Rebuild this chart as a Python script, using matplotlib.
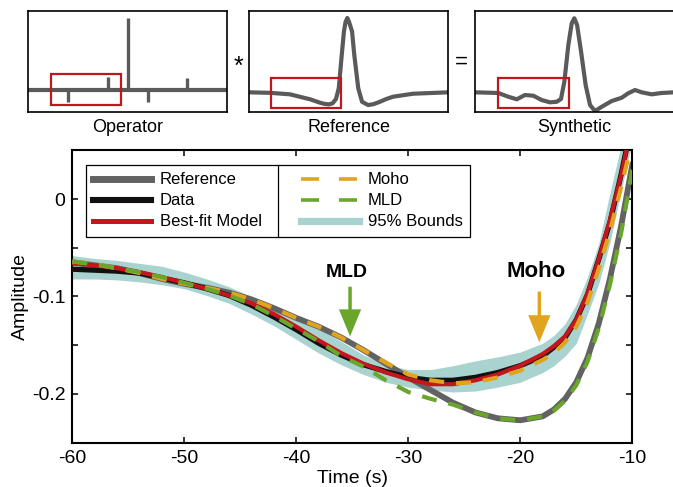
import matplotlib
matplotlib.use("Agg")
import matplotlib.pyplot as plt
from matplotlib.lines import Line2D
from matplotlib.patches import Rectangle

plt.rcParams["font.family"] = "Liberation Sans"
plt.rcParams["axes.unicode_minus"] = False

# ---- main panel: stacked amplitudes vs time
time_s = [-60, -58, -56, -54, -52, -50, -48, -46, -44, -42, -40, -38, -36, -34, -32,
          -30, -28, -26, -24, -22, -20, -18, -17, -16, -15, -14, -13, -12, -11, -10]

reference_amp = [-0.065, -0.068, -0.071, -0.076, -0.082, -0.087, -0.091, -0.096, -0.103, -0.112,
                 -0.122, -0.131, -0.142, -0.155, -0.169, -0.183, -0.196, -0.209, -0.219, -0.225,
                 -0.227, -0.223, -0.216, -0.205, -0.188, -0.163, -0.128, -0.082, -0.028, 0.035]
data_amp = [-0.072, -0.073, -0.074, -0.076, -0.081, -0.086, -0.092, -0.099, -0.109, -0.121,
            -0.134, -0.148, -0.160, -0.170, -0.177, -0.183, -0.186, -0.186, -0.183, -0.178,
            -0.171, -0.161, -0.152, -0.142, -0.124, -0.098, -0.062, -0.024, 0.025, 0.080]
bestfit_amp = [-0.066, -0.068, -0.071, -0.075, -0.080, -0.086, -0.092, -0.099, -0.107, -0.118,
               -0.131, -0.145, -0.158, -0.169, -0.178, -0.185, -0.190, -0.190, -0.186, -0.180,
               -0.171, -0.159, -0.151, -0.141, -0.124, -0.097, -0.062, -0.022, 0.024, 0.078]
moho_amp = [-0.064, -0.067, -0.071, -0.076, -0.082, -0.087, -0.091, -0.096, -0.103, -0.112,
            -0.122, -0.131, -0.142, -0.155, -0.168, -0.180, -0.186, -0.189, -0.188, -0.183,
            -0.176, -0.165, -0.158, -0.147, -0.131, -0.106, -0.072, -0.033, 0.012, 0.060]
mld_amp = [-0.064, -0.067, -0.071, -0.075, -0.080, -0.086, -0.092, -0.099, -0.108, -0.120,
           -0.133, -0.146, -0.161, -0.172, -0.186, -0.198, -0.205, -0.211, -0.219, -0.225,
           -0.227, -0.223, -0.217, -0.207, -0.191, -0.167, -0.133, -0.088, -0.035, 0.030]
bound_upper = [-0.058, -0.061, -0.063, -0.066, -0.069, -0.075, -0.082, -0.090, -0.100, -0.110,
               -0.122, -0.133, -0.146, -0.160, -0.170, -0.175, -0.175, -0.171, -0.166, -0.162,
               -0.157, -0.148, -0.140, -0.128, -0.108, -0.080, -0.046, 0.006, 0.055, 0.100]
bound_lower = [-0.082, -0.082, -0.083, -0.085, -0.088, -0.092, -0.099, -0.107, -0.118, -0.130,
               -0.144, -0.158, -0.170, -0.180, -0.188, -0.193, -0.196, -0.198, -0.197, -0.193,
               -0.188, -0.178, -0.171, -0.161, -0.148, -0.118, -0.087, -0.045, 0.008, 0.060]

# interface picks marked with arrows (time, arrow top, arrow tip, label height)
mld_pick = (-35.2, -0.090, -0.141, -0.075)
moho_pick = (-18.3, -0.095, -0.147, -0.0745)

# ---- top row: deconvolution sketch (normalised time 0..1, peak = 1)
op_lag = [0.201, 0.402, 0.503, 0.603, 0.799]
op_weight = [-0.167, 0.181, 1.0, -0.167, 0.167]

ref_t = [0.0, 0.106, 0.206, 0.307, 0.357, 0.380, 0.402, 0.420, 0.437, 0.451, 0.466, 0.477,
         0.485, 0.494, 0.503, 0.518, 0.529, 0.549, 0.568, 0.598, 0.625, 0.658, 0.690, 0.724,
         0.824, 1.0]
ref_wave = [0.0, -0.007, -0.027, -0.094, -0.140, -0.156, -0.162, -0.148, -0.090, 0.054, 0.502,
            0.816, 0.946, 1.0, 0.946, 0.816, 0.502, 0.054, -0.127, -0.171, -0.160, -0.127,
            -0.090, -0.059, -0.019, 0.0]

syn_t = [0.0, 0.117, 0.167, 0.210, 0.251, 0.293, 0.335, 0.377, 0.411, 0.432, 0.449, 0.469,
         0.486, 0.499, 0.513, 0.533, 0.556, 0.578, 0.603, 0.637, 0.687, 0.737, 0.770, 0.804,
         0.838, 0.888, 0.938, 1.0]
syn_wave = [0.0, -0.009, -0.059, -0.094, -0.036, -0.046, -0.104, -0.135, -0.127, -0.090, 0.143,
            0.637, 0.929, 0.996, 0.906, 0.546, 0.098, -0.171, -0.252, -0.194, -0.117, -0.073,
            -0.013, 0.031, 0.0, -0.027, -0.009, 0.0]

WAVE_GRAY = "#5a5a5a"
BOX_RED = "#c0161d"

fig = plt.figure(figsize=(6.73, 4.87), dpi=100)


def sketch_axes(x0, ylim):
    a = fig.add_axes([x0, 0.770, 0.2957, 0.2074])
    a.set_xlim(0, 1)
    a.set_ylim(*ylim)
    a.set_xticks([])
    a.set_yticks([])
    for s in a.spines.values():
        s.set_linewidth(1.2)
    return a


def window(a, t0, t1, lo, hi):
    a.add_patch(Rectangle((t0, lo), t1 - t0, hi - lo, fill=False,
                          edgecolor=BOX_RED, linewidth=1.6, zorder=5))


ax_op = sketch_axes(0.0416, (-0.306, 1.097))
ax_op.axhline(0, color=WAVE_GRAY, lw=3.0)
ax_op.vlines(op_lag, 0, op_weight, color=WAVE_GRAY, lw=2.4)
window(ax_op, 0.116, 0.467, -0.208, 0.222)
fig.text(0.1895, 0.738, "Operator", ha="center", va="center", fontsize=13)

ax_ref = sketch_axes(0.370, (-0.265, 1.094))
ax_ref.plot(ref_t, ref_wave, color=WAVE_GRAY, lw=3.0, solid_joinstyle="round")
window(ax_ref, 0.111, 0.462, -0.211, 0.192)
fig.text(0.518, 0.738, "Reference", ha="center", va="center", fontsize=13)

ax_syn = sketch_axes(0.7058, (-0.265, 1.094))
ax_syn.plot(syn_t, syn_wave, color=WAVE_GRAY, lw=3.0, solid_joinstyle="round")
window(ax_syn, 0.116, 0.472, -0.211, 0.192)
fig.text(0.854, 0.738, "Synthetic", ha="center", va="center", fontsize=13)

fig.text(0.354, 0.862, "*", ha="center", va="center", fontsize=18)
fig.text(0.685, 0.872, "=", ha="center", va="center", fontsize=16)

# ---- main axes
ax = fig.add_axes([0.1074, 0.091, 0.8321, 0.601])

ax.fill_between(time_s, bound_lower, bound_upper, color="#a9d3cf", lw=0, zorder=1)
ax.plot(time_s, reference_amp, color="#626262", lw=4.2, zorder=2, solid_joinstyle="round")
ax.plot(time_s, data_amp, color="#111111", lw=3.8, zorder=3, solid_joinstyle="round")
ax.plot(time_s, bestfit_amp, color="#c4161c", lw=3.0, zorder=4, solid_joinstyle="round")
ax.plot(time_s, moho_amp, color="#e1a41f", lw=3.0, zorder=5, dashes=(3.6, 2.9))
ax.plot(time_s, mld_amp, color="#6aa62b", lw=3.0, zorder=6, dashes=(3.6, 2.9))

for (t, top, tip, lab_y), name, col, fs in [(mld_pick, "MLD", "#6aa62b", 14),
                                            (moho_pick, "Moho", "#e1a41f", 16)]:
    ax.annotate("", xy=(t, tip), xytext=(t, top),
                arrowprops=dict(arrowstyle="simple,head_width=1.6,head_length=1.95,tail_width=0.25",
                                color=col, lw=0, shrinkA=0, shrinkB=0, mutation_scale=10),
                zorder=7)
    ax.text(t - 0.3, lab_y, name, ha="center", va="center", fontsize=fs,
            fontweight="bold", zorder=7)

ax.set_xlim(-60, -10)
ax.set_ylim(-0.25, 0.0503)
ax.set_xticks([-60, -50, -40, -30, -20, -10])
ax.set_xticklabels(["-60", "-50", "-40", "-30", "-20", "-10"])
ax.set_yticks([0, -0.05, -0.1, -0.15, -0.2])
ax.set_yticklabels(["0", "", "-0.1", "", "-0.2"])
ax.tick_params(direction="in", length=4.5, width=1.1, top=True, right=True,
               labelsize=14, pad=5)
for s in ax.spines.values():
    s.set_linewidth(1.5)
ax.set_xlabel("Time (s)", fontsize=14, labelpad=2.5)
ax.set_ylabel("Amplitude", fontsize=14, labelpad=2)

handles = [
    Line2D([], [], color="#626262", lw=5.0),
    Line2D([], [], color="#111111", lw=4.4),
    Line2D([], [], color="#c4161c", lw=3.6),
    Line2D([], [], color="#e1a41f", lw=2.6, dashes=(5.0, 5.5)),
    Line2D([], [], color="#6aa62b", lw=2.6, dashes=(5.0, 5.5)),
    Line2D([], [], color="#a9d3cf", lw=5.2),
]
labels = ["Reference", "Data", "Best-fit Model", "Moho", "MLD", "95% Bounds"]
leg = ax.legend(handles, labels, ncol=2, mode="expand", loc="upper left",
                bbox_to_anchor=(0.0239, 0.949, 0.6863, 0), borderaxespad=0,
                fontsize=12, handlelength=3.5, handletextpad=0.5, labelspacing=0.36,
                borderpad=0.45, fancybox=False, framealpha=1, edgecolor="black")
leg.get_frame().set_linewidth(0.9)

# vertical rule splitting the two legend columns
fig.canvas.draw()
bb = leg.get_window_extent().transformed(ax.transAxes.inverted())
ax.plot([0.3673, 0.3673], [bb.y0, bb.y1], transform=ax.transAxes, color="black",
        lw=0.9, zorder=10, clip_on=False)

fig.savefig("out.png", dpi=100)
